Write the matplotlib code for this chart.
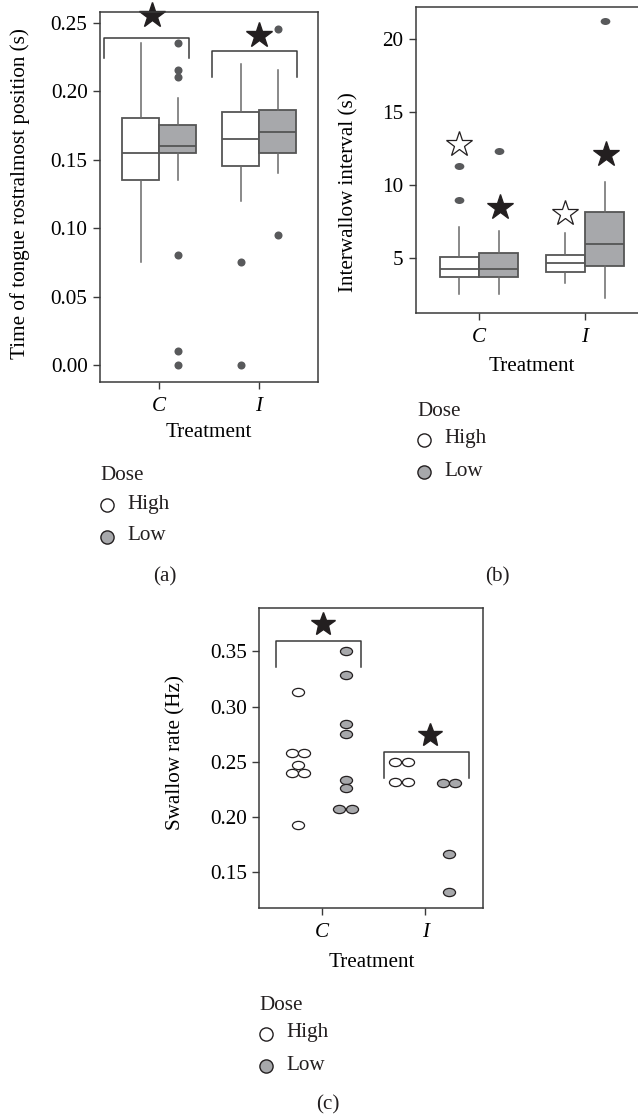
import numpy as np
import matplotlib
matplotlib.use("Agg")
import matplotlib.pyplot as plt
from matplotlib.path import Path
from matplotlib.lines import Line2D

W, H = 638, 1117

plt.rcParams["font.family"] = ["Liberation Serif", "DejaVu Serif"]
plt.rcParams["font.size"] = 15.2
plt.rcParams["text.color"] = "#231f20"

groups = ["C", "I"]
doses = ["High", "Low"]

# (a) order of boxes: C-High, C-Low, I-High, I-Low
a_whislo = [0.075, 0.135, 0.120, 0.140]
a_q1 = [0.135, 0.155, 0.145, 0.155]
a_med = [0.155, 0.160, 0.165, 0.170]
a_q3 = [0.180, 0.175, 0.185, 0.186]
a_whishi = [0.235, 0.195, 0.220, 0.215]
a_fliers = [[], [0.235, 0.215, 0.210, 0.080, 0.010, 0.000], [0.075, 0.000], [0.245, 0.095]]
a_yticks = [0.00, 0.05, 0.10, 0.15, 0.20, 0.25]
# significance brackets (x0, x1, top, foot) and stars (x, y)
a_brackets = [(0.453, 1.303, 0.2384, 0.2238), (1.53, 2.383, 0.229, 0.2105)]
a_stars = [(0.927, 0.2555), (2.0, 0.241)]

# (b)
b_whislo = [2.6, 2.6, 3.3, 2.3]
b_q1 = [3.7, 3.7, 4.05, 4.5]
b_med = [4.3, 4.3, 4.65, 6.0]
b_q3 = [5.1, 5.35, 5.25, 8.15]
b_whishi = [7.15, 6.9, 6.75, 10.2]
b_fliers = [[11.3, 9.0], [12.3], [], [21.2]]
b_yticks = [5, 10, 15, 20]
b_star_y = [12.8, 8.5, 8.1, 12.1]

# (c) swallow rate per group and dose
c_high_C = [0.313, 0.258, 0.258, 0.247, 0.240, 0.240, 0.193]
c_low_C = [0.350, 0.329, 0.284, 0.275, 0.234, 0.226, 0.207, 0.207]
c_high_I = [0.250, 0.250, 0.232, 0.232]
c_low_I = [0.231, 0.231, 0.167, 0.132]
c_yticks = [0.15, 0.20, 0.25, 0.30, 0.35]
c_brackets = [(0.56, 1.38, 0.359, 0.336), (1.60, 2.42, 0.2588, 0.2358)]
c_stars = [(1.01, 0.375), (2.05, 0.274)]

HIGH_FC = "white"
LOW_FC = "#a7a8ab"
EDGE = "#555555"
DARK = "#231f20"
FLIER = "#58595b"

circ = Path.unit_circle()
ellipse = Path(circ.vertices * [1, 0.68], circ.codes)
flat = Path(circ.vertices * [1, 0.72], circ.codes)


def frame(left, top, right, bottom):
    return [left / W, 1 - bottom / H, (right - left) / W, (bottom - top) / H]


def style_axes(ax, yticks, fmt):
    for s in ax.spines.values():
        s.set_color("#3a3a3a")
        s.set_linewidth(1.1)
    ax.set_xticks([1, 2])
    ax.set_xticklabels(groups, fontstyle="italic")
    ax.set_yticks(yticks)
    ax.set_yticklabels([fmt.format(v) for v in yticks])
    ax.tick_params(direction="out", length=5, width=1, color="#3a3a3a", pad=4)
    ax.tick_params(axis="x", pad=6)


def boxes(ax, whislo, q1, med, q3, whishi, fliers, flier_marker, flier_ms):
    pos = [1 - 0.185, 1 + 0.185, 2 - 0.185, 2 + 0.185]
    stats = [dict(whislo=whislo[i], q1=q1[i], med=med[i], q3=q3[i], whishi=whishi[i], fliers=[])
             for i in range(4)]
    art = ax.bxp(stats, positions=pos, widths=0.37, patch_artist=True, showcaps=False,
                 showfliers=False,
                 boxprops=dict(edgecolor=EDGE, linewidth=1.3),
                 medianprops=dict(color=EDGE, linewidth=1.3),
                 whiskerprops=dict(color="#6a6a6a", linewidth=1.1))
    for i, b in enumerate(art["boxes"]):
        b.set_facecolor(HIGH_FC if i % 2 == 0 else LOW_FC)
    for i in range(4):
        if fliers[i]:
            ax.plot([pos[i]] * len(fliers[i]), fliers[i], ls="none", marker=flier_marker,
                    ms=flier_ms, mfc=FLIER, mec="none", clip_on=False)


def bracket(ax, x0, x1, top, foot):
    ax.plot([x0, x0, x1, x1], [foot, top, top, foot], color="#3a3a3a", lw=1.1, clip_on=False)


def legend(x, y):
    fig.text(x / W, 1 - y / H, "Dose", ha="left", va="center")
    for k, (lab, fc) in enumerate([("High", HIGH_FC), ("Low", LOW_FC)]):
        yy = y + 29 + 32 * k
        fig.add_artist(Line2D([(x + 7) / W], [1 - yy / H], transform=fig.transFigure,
                              marker="o", ms=9.5, mfc=fc, mec=DARK, mew=1.0, ls="none"))
        fig.text((x + 27) / W, 1 - (yy - 1) / H, lab, ha="left", va="center")


fig = plt.figure(figsize=(W / 100, H / 100), dpi=100)

# ---- (a)
ax = fig.add_axes(frame(100, 12, 318, 382))
boxes(ax, a_whislo, a_q1, a_med, a_q3, a_whishi, a_fliers, "o", 5.8)
for br in a_brackets:
    bracket(ax, *br)
for sx, sy in a_stars:
    ax.plot(sx, sy, marker="*", ms=19, mfc=DARK, mec=DARK, clip_on=False)
ax.set_xlim(0.41, 2.59)
ax.set_ylim(-0.0124, 0.2577)
style_axes(ax, a_yticks, "{:.2f}")
ax.set_ylabel("Time of tongue rostralmost position (s)")
ax.yaxis.set_label_coords(-0.32, 0.509)
ax.set_xlabel("Treatment")
ax.xaxis.set_label_coords(0.5, -0.112)
legend(100, 476)
fig.text(165 / W, 1 - 577 / H, "(a)", ha="center", va="center")

# ---- (b)
ax = fig.add_axes(frame(415.7, 6.7, 648.3, 312.7))
boxes(ax, b_whislo, b_q1, b_med, b_q3, b_whishi, b_fliers, flat, 7)
for i, sy in enumerate(b_star_y):
    sx = (1 if i < 2 else 2) + (-0.185 if i % 2 == 0 else 0.2)
    ax.plot(sx, sy, marker="*", ms=19, mfc="white" if i % 2 == 0 else DARK, mec=DARK, mew=0.9)
ax.set_xlim(0.403, 2.597)
ax.set_ylim(1.29, 22.18)
style_axes(ax, b_yticks, "{:d}")
ax.set_ylabel("Interwallow interval (s)")
ax.yaxis.set_label_coords(-0.245, 0.394)
ax.set_xlabel("Treatment")
ax.xaxis.set_label_coords(0.5, -0.145)
legend(417, 411)
fig.text(497 / W, 1 - 577 / H, "(b)", ha="center", va="center")

# ---- (c)
ax = fig.add_axes(frame(259.3, 608.3, 483.3, 907.7))
series = [(c_high_C, 1, HIGH_FC), (c_low_C, 1, LOW_FC), (c_high_I, 2, HIGH_FC), (c_low_I, 2, LOW_FC)]
for k, (vals, g, fc) in enumerate(series):
    centre = g + (-0.23 if k % 2 == 0 else 0.23)
    vals = np.array(vals)
    xs = np.zeros(len(vals))
    for v in np.unique(vals):
        idx = np.where(vals == v)[0]
        xs[idx] = centre + (np.arange(len(idx)) - (len(idx) - 1) / 2) * 0.119
    ax.plot(xs, vals, ls="none", marker=ellipse, ms=8.7, mfc=fc, mec=DARK, mew=0.9)
for br in c_brackets:
    bracket(ax, *br)
for sx, sy in c_stars:
    ax.plot(sx, sy, marker="*", ms=18, mfc=DARK, mec=DARK, clip_on=False)
ax.set_xlim(0.398, 2.56)
ax.set_ylim(0.118, 0.389)
style_axes(ax, c_yticks, "{:.2f}")
ax.set_ylabel("Swallow rate (Hz)")
ax.yaxis.set_label_coords(-0.33, 0.517)
ax.set_xlabel("Treatment")
ax.xaxis.set_label_coords(0.5, -0.15)
legend(259, 1005)
fig.text(328 / W, 1 - 1105 / H, "(c)", ha="center", va="center")

fig.savefig("out.png", dpi=100)
